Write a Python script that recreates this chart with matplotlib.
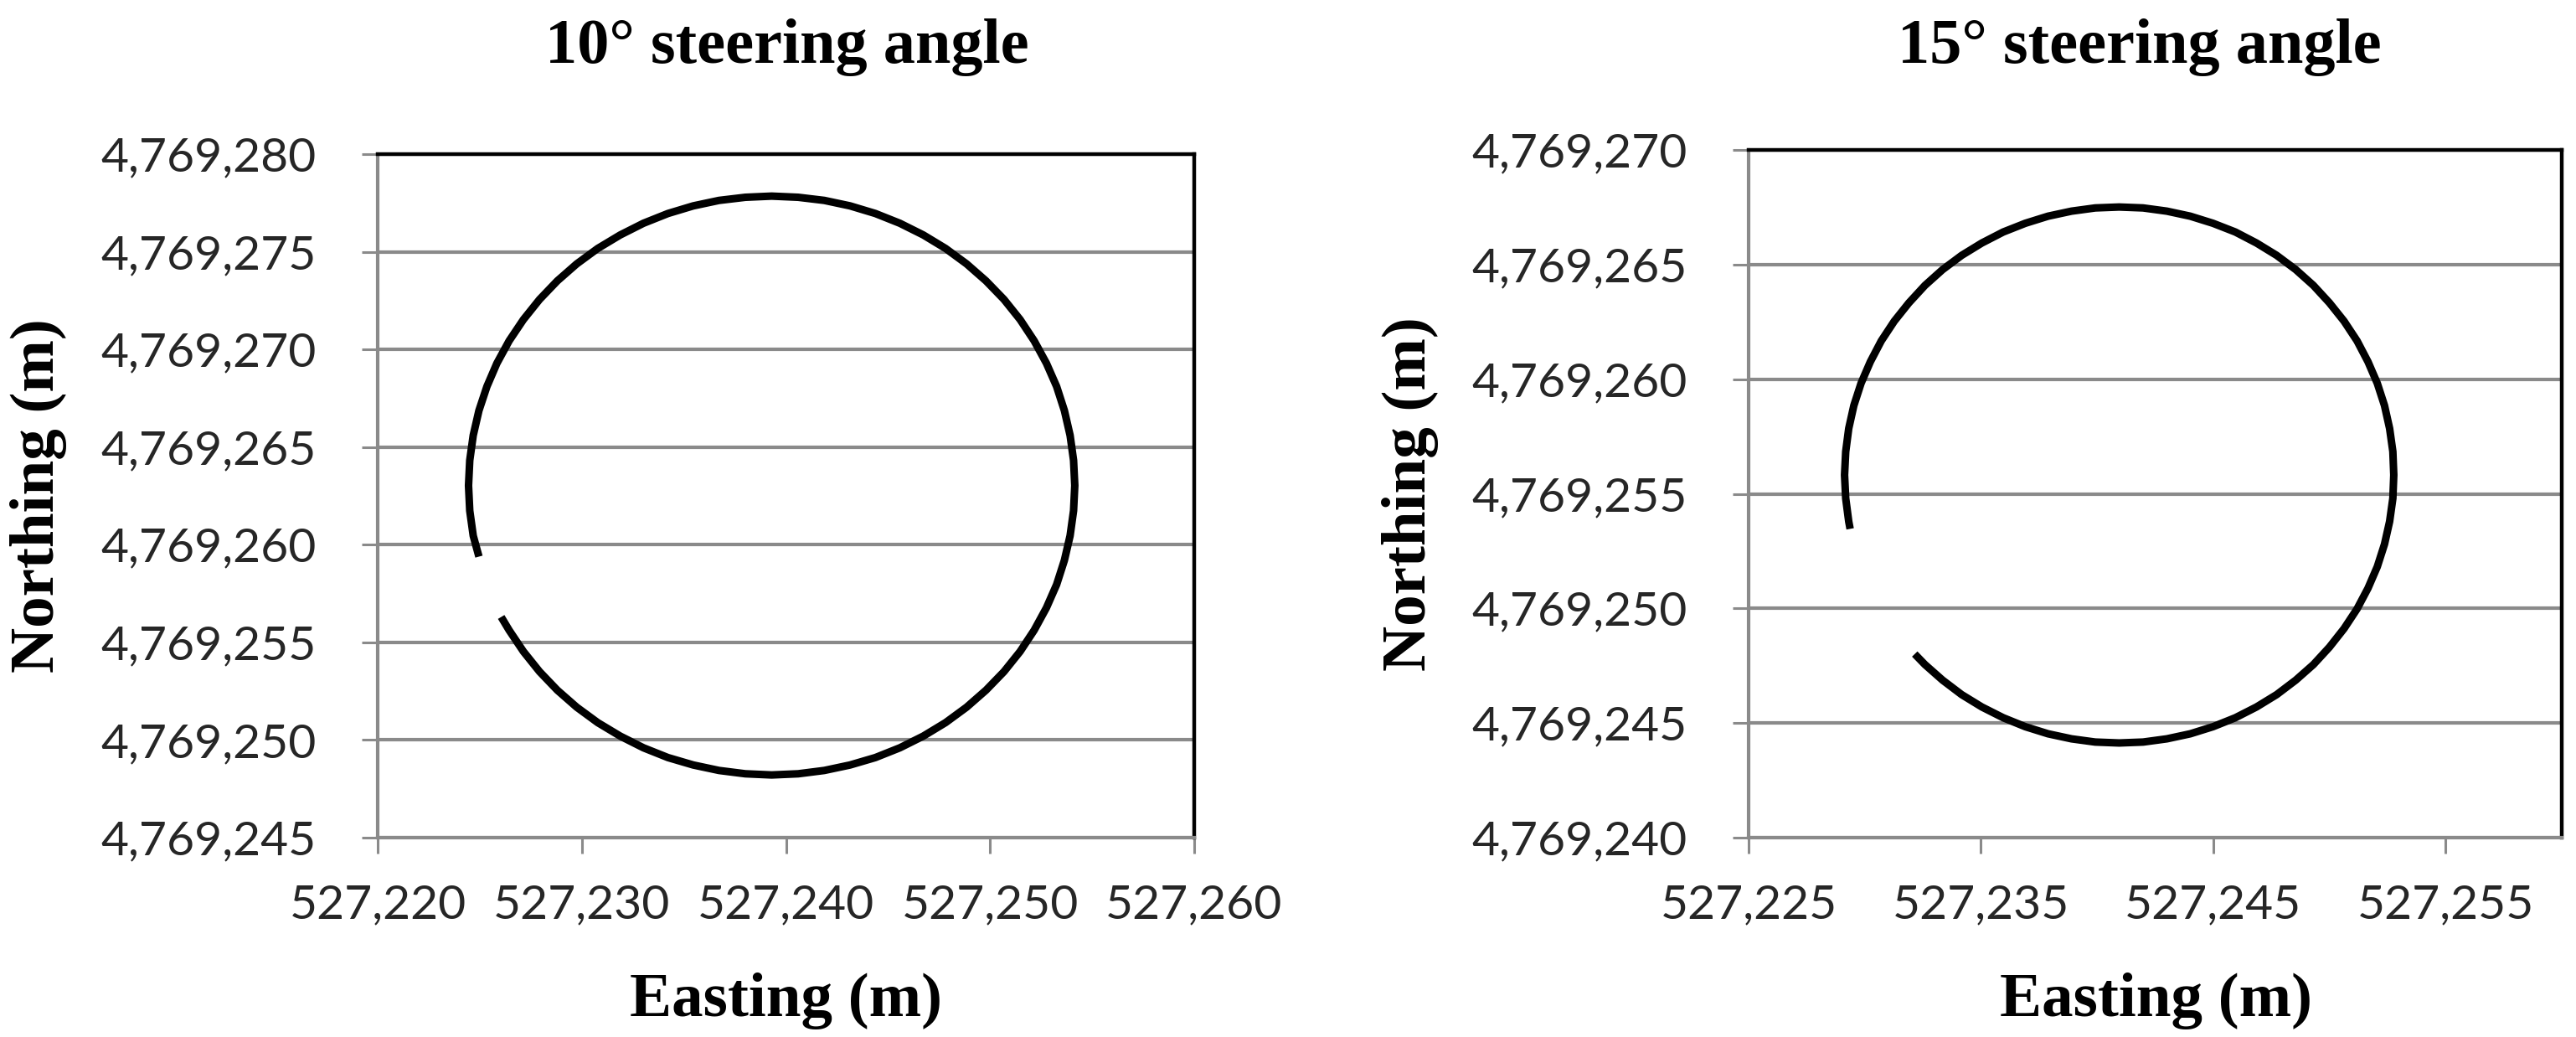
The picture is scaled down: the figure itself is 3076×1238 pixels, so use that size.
import matplotlib
matplotlib.use('Agg')
import matplotlib.pyplot as plt
from matplotlib.ticker import FuncFormatter, MultipleLocator

# 10 deg steering angle: path (easting, northing in m)
east_10 = [527226.05, 527226.44, 527227.14, 527227.93, 527228.80, 527229.75, 527230.78,
           527231.88, 527233.02, 527234.22, 527235.46, 527236.72, 527238.01, 527239.30,
           527240.60, 527241.88, 527243.14, 527244.38, 527245.58, 527246.73, 527247.82,
           527248.85, 527249.80, 527250.68, 527251.47, 527252.16, 527252.76, 527253.26,
           527253.64, 527253.92, 527254.09, 527254.15, 527254.09, 527253.92, 527253.64,
           527253.26, 527252.76, 527252.16, 527251.47, 527250.68, 527249.80, 527248.85,
           527247.82, 527246.73, 527245.58, 527244.38, 527243.14, 527241.88, 527240.60,
           527239.30, 527238.01, 527236.72, 527235.46, 527234.22, 527233.02, 527231.88,
           527230.78, 527229.75, 527228.80, 527227.93, 527227.14, 527226.44, 527225.84,
           527225.35, 527224.96, 527224.68, 527224.51, 527224.45, 527224.51, 527224.68,
           527224.96]
north_10 = [4769256.30, 4769255.62, 4769254.53, 4769253.50, 4769252.55, 4769251.68, 4769250.89,
            4769250.20, 4769249.60, 4769249.10, 4769248.72, 4769248.44, 4769248.27, 4769248.21,
            4769248.27, 4769248.44, 4769248.72, 4769249.10, 4769249.60, 4769250.20, 4769250.89,
            4769251.68, 4769252.55, 4769253.50, 4769254.53, 4769255.62, 4769256.77, 4769257.96,
            4769259.20, 4769260.46, 4769261.74, 4769263.03, 4769264.32, 4769265.60, 4769266.87,
            4769268.10, 4769269.29, 4769270.44, 4769271.53, 4769272.56, 4769273.51, 4769274.38,
            4769275.17, 4769275.86, 4769276.46, 4769276.96, 4769277.35, 4769277.63, 4769277.79,
            4769277.85, 4769277.79, 4769277.63, 4769277.35, 4769276.96, 4769276.46, 4769275.86,
            4769275.17, 4769274.38, 4769273.51, 4769272.56, 4769271.53, 4769270.44, 4769269.29,
            4769268.10, 4769266.87, 4769265.60, 4769264.32, 4769263.03, 4769261.74, 4769260.46,
            4769259.39]

# 15 deg steering angle
east_15 = [527232.15, 527232.59, 527233.35, 527234.17, 527235.04, 527235.96, 527236.91,
           527237.89, 527238.90, 527239.92, 527240.95, 527241.98, 527243.00, 527244.01,
           527244.99, 527245.95, 527246.86, 527247.73, 527248.55, 527249.31, 527250.00,
           527250.63, 527251.19, 527251.66, 527252.06, 527252.37, 527252.59, 527252.73,
           527252.77, 527252.73, 527252.59, 527252.37, 527252.06, 527251.66, 527251.19,
           527250.63, 527250.00, 527249.31, 527248.55, 527247.73, 527246.86, 527245.95,
           527244.99, 527244.01, 527243.00, 527241.98, 527240.95, 527239.92, 527238.90,
           527237.89, 527236.91, 527235.96, 527235.04, 527234.17, 527233.35, 527232.59,
           527231.90, 527231.27, 527230.71, 527230.24, 527229.84, 527229.53, 527229.31,
           527229.18, 527229.13, 527229.18, 527229.31, 527229.37]
north_15 = [4769248.01, 4769247.55, 4769246.87, 4769246.24, 4769245.70, 4769245.23, 4769244.84,
            4769244.53, 4769244.31, 4769244.17, 4769244.13, 4769244.17, 4769244.31, 4769244.53,
            4769244.84, 4769245.23, 4769245.70, 4769246.24, 4769246.87, 4769247.55, 4769248.31,
            4769249.12, 4769249.98, 4769250.88, 4769251.82, 4769252.80, 4769253.79, 4769254.80,
            4769255.82, 4769256.84, 4769257.85, 4769258.85, 4769259.82, 4769260.76, 4769261.67,
            4769262.53, 4769263.33, 4769264.09, 4769264.78, 4769265.40, 4769265.94, 4769266.42,
            4769266.80, 4769267.11, 4769267.33, 4769267.47, 4769267.51, 4769267.47, 4769267.33,
            4769267.11, 4769266.80, 4769266.42, 4769265.94, 4769265.40, 4769264.78, 4769264.09,
            4769263.33, 4769262.53, 4769261.67, 4769260.76, 4769259.82, 4769258.85, 4769257.85,
            4769256.84, 4769255.82, 4769254.80, 4769253.79, 4769253.47]

titles = ['10° steering angle', '15° steering angle']
xlims = [(527220, 527260), (527225, 527260)]
ylims = [(4769245, 4769280), (4769240, 4769270)]
xtick_start = [527220, 527225]

W, H = 3076, 1238
fig = plt.figure(figsize=(W / 100, H / 100), dpi=100)

tick_font = 'Lato'
serif = 'Liberation Serif'
grey = '#8a8a8a'

# axes boxes in pixels: left, top, right, bottom
boxes = [(451, 184, 1426, 1000), (2088, 179, 3059, 1000)]
title_x = [940, 2555]
xlabel_x = [938, 2574]
ylabel_x = [64, 1702]

fmt = FuncFormatter(lambda v, p: f'{v:,.0f}')

for i, (east, north) in enumerate([(east_10, north_10), (east_15, north_15)]):
    l, t, r, b = boxes[i]
    ax = fig.add_axes([l / W, 1 - b / H, (r - l) / W, (b - t) / H])
    ax.plot(east, north, color='black', lw=6.5, solid_capstyle='butt',
            solid_joinstyle='round', zorder=3)
    ax.set_xlim(*xlims[i])
    ax.set_ylim(*ylims[i])
    ax.set_xticks(range(xtick_start[i], xlims[i][1] + 1, 10))
    ax.yaxis.set_major_locator(MultipleLocator(5))
    ax.xaxis.set_major_formatter(fmt)
    ax.yaxis.set_major_formatter(fmt)
    ax.grid(axis='y', color=grey, lw=3)
    ax.set_axisbelow(True)
    for s in ['left', 'bottom']:
        ax.spines[s].set_color(grey)
        ax.spines[s].set_linewidth(3)
    for s in ['top', 'right']:
        ax.spines[s].set_color('black')
        ax.spines[s].set_linewidth(3.2)
    ax.tick_params(axis='both', direction='out', length=14, width=2.2, color=grey,
                   labelsize=41, labelcolor='#262626')
    ax.tick_params(axis='y', pad=39)
    ax.tick_params(axis='x', pad=26)
    for lab in ax.get_xticklabels() + ax.get_yticklabels():
        lab.set_family(tick_font)

    fig.text(title_x[i] / W, 1 - 75 / H, titles[i], family=serif, weight='bold',
             fontsize=55, ha='center', va='baseline')
    fig.text(xlabel_x[i] / W, 1 - 1213 / H, 'Easting (m)', family=serif, weight='bold',
             fontsize=54, ha='center', va='baseline')
    fig.text(ylabel_x[i] / W, 1 - ((t + b) / 2) / H, 'Northing (m)', family=serif,
             weight='bold', fontsize=54, rotation=90, rotation_mode='anchor',
             ha='center', va='baseline')

fig.savefig('out.png', dpi=100, facecolor='white')
